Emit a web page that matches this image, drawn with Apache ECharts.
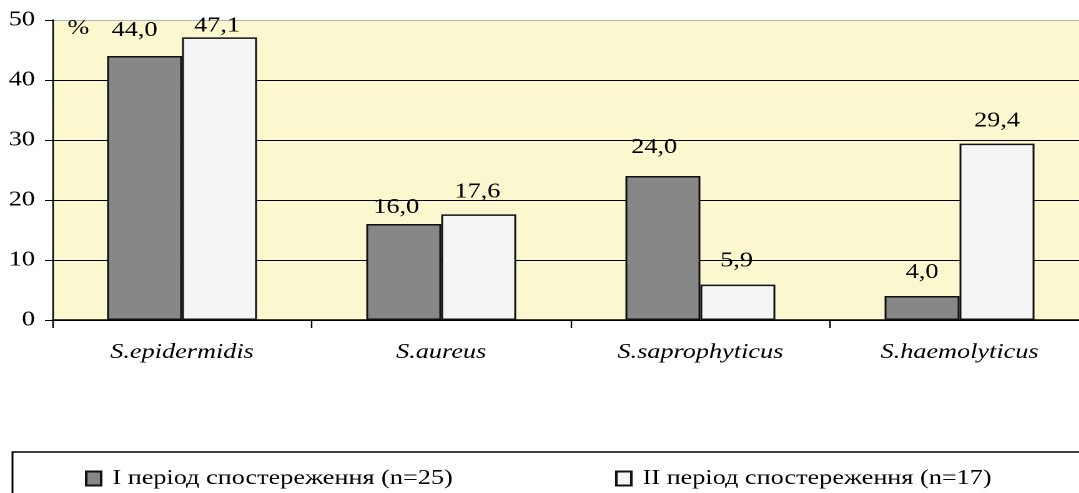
<!DOCTYPE html>
<html>
<head>
<meta charset="utf-8">
<script src="https://cdn.jsdelivr.net/npm/echarts@6/dist/echarts.min.js"></script>
<style>
  html, body { margin: 0; padding: 0; background: #fff; overflow: hidden; }
  /* the source picture is stretched sideways, so the chart is drawn narrower and widened */
  #chart { width: 864px; height: 493px; transform: scaleX(1.249); transform-origin: 0 0; }
</style>
</head>
<body>
<div id="chart"></div>
<script>
  var categories = ['S.epidermidis', 'S.aureus', 'S.saprophyticus', 'S.haemolyticus'];
  var period1 = [44.0, 16.0, 24.0, 4.0];
  var period2 = [47.1, 17.6, 5.9, 29.4];
  var seriesNames = ['І період спостереження (n=25)', 'ІІ період спостереження (n=17)'];
  var yTicks = [0, 10, 20, 30, 40, 50];

  // small label shifts, as the labels sit in the original
  var nudge1 = [[-8, -3], [-6, 6], [-7, -6], [0, -1]];
  var nudge2 = [[-2, 11], [-1, 0], [-1, -1], [0, 0]];

  var font = '"Liberation Serif", "Times New Roman", serif';
  function fmt(p) {
    return p.value.toFixed(1).replace('.', ',');
  }
  function withNudge(values, nudge) {
    return values.map(function (v, i) {
      return { value: v, label: { offset: nudge[i] } };
    });
  }
  var valueLabel = {
    show: true,
    position: 'top',
    distance: 12,
    formatter: fmt,
    fontFamily: font,
    fontSize: 21,
    color: '#000'
  };

  var chartDom = document.getElementById('chart');
  var myChart = echarts.init(chartDom, null, { renderer: 'canvas', devicePixelRatio: 2 });

  var option = {
    animation: false,
    backgroundColor: '#fff',
    grid: {
      left: 42,
      right: -8,
      top: 20,
      bottom: 173,
      show: true,
      backgroundColor: '#FBF8CF',
      borderWidth: 0,
      containLabel: false,
      outerBoundsMode: 'none'
    },
    legend: {
      data: seriesNames,
      icon: 'rect',
      left: 10,
      top: 452,
      width: 1000,
      itemWidth: 12,
      itemHeight: 14,
      itemGap: 130,
      padding: [16, 100, 40, 58],
      borderColor: '#000',
      borderWidth: 1.5,
      textStyle: { fontFamily: font, fontSize: 21, color: '#000', padding: [0, 0, 0, 4] }
    },
    xAxis: {
      type: 'category',
      data: categories,
      axisLine: { lineStyle: { color: '#000', width: 1.5 } },
      axisTick: { show: true, interval: 0, length: 8, lineStyle: { color: '#000', width: 1.2 } },
      axisLabel: {
        interval: 0,
        margin: 22,
        fontStyle: 'italic',
        fontFamily: font,
        fontSize: 21,
        color: '#000'
      }
    },
    yAxis: {
      type: 'value',
      min: yTicks[0],
      max: yTicks[yTicks.length - 1],
      interval: yTicks[1] - yTicks[0],
      name: '%',
      nameLocation: 'end',
      nameGap: -19,
      nameTextStyle: { align: 'left', padding: [0, 0, 0, 12], fontFamily: font, fontSize: 21, color: '#000' },
      axisLine: { show: true, lineStyle: { color: '#000', width: 1.2 } },
      axisTick: { show: true, length: 6, lineStyle: { color: '#000' } },
      axisLabel: { margin: 14, padding: [8, 0, 0, 0], fontFamily: font, fontSize: 21, color: '#000' },
      splitLine: {
        show: true,
        lineStyle: { color: ['#000', '#000', '#000', '#000', '#000', '#b4b4b4'], width: 1 }
      }
    },
    series: [
      {
        name: seriesNames[0],
        type: 'bar',
        barWidth: 60,
        barGap: '0%',
        data: withNudge(period1, nudge1),
        itemStyle: { color: '#878787', borderColor: '#111', borderWidth: 1.5 },
        label: valueLabel
      },
      {
        name: seriesNames[1],
        type: 'bar',
        barWidth: 60,
        barGap: '0%',
        data: withNudge(period2, nudge2),
        itemStyle: { color: '#F5F5F5', borderColor: '#111', borderWidth: 1.5 },
        label: valueLabel
      }
    ]
  };
  myChart.setOption(option);
</script>
</body>
</html>
